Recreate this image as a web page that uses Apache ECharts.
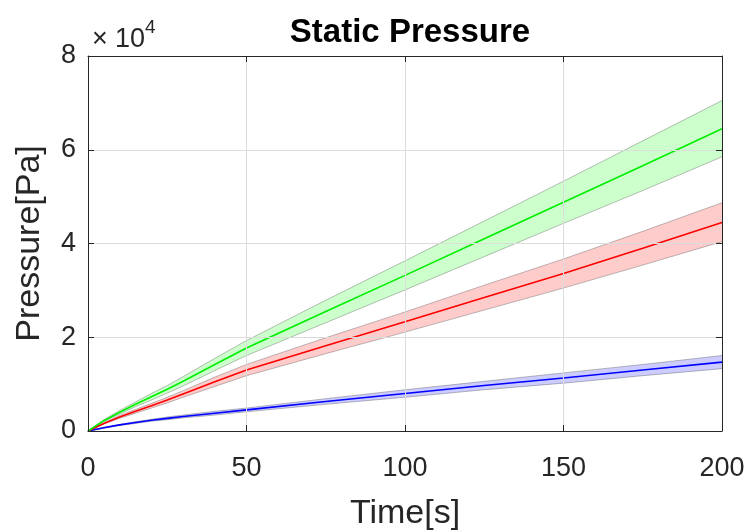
<!DOCTYPE html>
<html>
<head>
<meta charset="utf-8">
<title>Static Pressure</title>
<script src="https://cdn.jsdelivr.net/npm/echarts@6/dist/echarts.min.js"></script>
<style>
  html, body { margin: 0; padding: 0; background: #ffffff; }
  #chart { width: 745px; height: 530px; }
</style>
</head>
<body>
<div id="chart"></div>
<script>
// Time samples [s]
var timeS = [0, 5, 10, 15, 20, 25, 30, 40, 50, 75, 100, 125, 150, 175, 200];

// Pressure in units of 1e4 Pa: mean curve plus lower/upper bounds of each band
var greenMid = [0, 0.22, 0.40, 0.57, 0.73, 0.89, 1.06, 1.42, 1.77, 2.55, 3.32, 4.10, 4.88, 5.66, 6.45];
var greenLow = [0, 0.20, 0.36, 0.52, 0.66, 0.81, 0.96, 1.29, 1.61, 2.31, 3.01, 3.72, 4.43, 5.13, 5.85];
var greenUp  = [0, 0.24, 0.44, 0.62, 0.80, 0.97, 1.16, 1.55, 1.93, 2.79, 3.63, 4.48, 5.33, 6.19, 7.05];

var redMid = [0, 0.16, 0.30, 0.42, 0.54, 0.66, 0.79, 1.05, 1.30, 1.82, 2.33, 2.85, 3.36, 3.90, 4.45];
var redLow = [0, 0.15, 0.27, 0.38, 0.49, 0.60, 0.72, 0.95, 1.18, 1.65, 2.11, 2.58, 3.05, 3.54, 4.04];
var redUp  = [0, 0.17, 0.33, 0.46, 0.59, 0.72, 0.86, 1.15, 1.42, 1.99, 2.54, 3.11, 3.67, 4.26, 4.87];

var blueMid = [0, 0.07, 0.13, 0.18, 0.23, 0.27, 0.31, 0.38, 0.45, 0.63, 0.80, 0.97, 1.13, 1.30, 1.47];
var blueLow = [0, 0.06, 0.12, 0.16, 0.21, 0.24, 0.28, 0.34, 0.41, 0.57, 0.72, 0.88, 1.02, 1.18, 1.33];
var blueUp  = [0, 0.08, 0.14, 0.20, 0.25, 0.30, 0.34, 0.42, 0.49, 0.69, 0.88, 1.06, 1.24, 1.42, 1.61];

var xTicks = [0, 50, 100, 150, 200];
var yTicks = [0, 2, 4, 6, 8];

var FONT = '"Liberation Sans", Arial, Helvetica, sans-serif';
var AXIS_COLOR = '#262626';
var EDGE_COLOR = 'rgba(50,50,50,0.4)';

function pairs(ys) {
  return timeS.map(function (t, i) { return [t, ys[i]]; });
}

// Filled polygon between the lower and upper bounds, placed through the grid's scales
function bandFill(key, low, up, fill) {
  var rows = timeS.map(function (t, i) { return [t, low[i], up[i]]; });
  return {
    name: key + '-fill', type: 'custom', silent: true, z: 1,
    data: rows,
    encode: { x: 0, y: [1, 2] },
    renderItem: function (params, api) {
      if (params.dataIndex !== 0) return null;
      var pts = [];
      for (var i = 0; i < rows.length; i++) pts.push(api.coord([rows[i][0], rows[i][2]]));
      for (var j = rows.length - 1; j >= 0; j--) pts.push(api.coord([rows[j][0], rows[j][1]]));
      return {
        type: 'polygon',
        shape: { points: pts },
        style: { fill: fill, stroke: null }
      };
    }
  };
}

function edgeLine(key, ys) {
  return {
    name: key, type: 'line', data: pairs(ys),
    showSymbol: false, silent: true, z: 2,
    lineStyle: { color: EDGE_COLOR, width: 0.8 }
  };
}

// One shaded band with its edges and centre line
function bandSeries(key, low, up, mid, fill, lineColor) {
  return [
    bandFill(key, low, up, fill),
    edgeLine(key + '-low', low),
    edgeLine(key + '-up', up),
    {
      name: key + '-mid', type: 'line', data: pairs(mid),
      showSymbol: false, silent: true, z: 3,
      lineStyle: { color: lineColor, width: 1.6 }
    }
  ];
}

var chart = echarts.init(document.getElementById('chart'), null, { renderer: 'canvas' });

var tickStyle = { show: true, inside: true, length: 6, lineStyle: { color: AXIS_COLOR, width: 1 } };
var lineAxis = { show: true, onZero: false, lineStyle: { color: AXIS_COLOR, width: 1 } };

var option = {
  backgroundColor: '#ffffff',
  animation: false,
  title: {
    text: 'Static Pressure',
    left: 405, top: 11, textAlign: 'center',
    textStyle: { fontFamily: FONT, fontSize: 33, fontWeight: 'bold', color: '#000000' }
  },
  grid: { left: 88, right: 23, top: 56, bottom: 99, containLabel: false, outerBoundsMode: 'none' },
  xAxis: [
    {
      type: 'value', min: xTicks[0], max: xTicks[xTicks.length - 1], interval: 50,
      position: 'bottom', z: 10,
      name: 'Time[s]', nameLocation: 'middle', nameGap: 66,
      nameTextStyle: { fontFamily: FONT, fontSize: 34, color: AXIS_COLOR },
      axisLine: lineAxis, axisTick: tickStyle,
      axisLabel: { fontFamily: FONT, fontSize: 27, color: AXIS_COLOR, margin: 24 },
      splitLine: { show: true, lineStyle: { color: '#dcdcdc', width: 1 } }
    },
    {
      type: 'value', min: xTicks[0], max: xTicks[xTicks.length - 1], interval: 50,
      position: 'top', z: 10,
      axisLine: lineAxis, axisTick: tickStyle,
      axisLabel: { show: false }, splitLine: { show: false }
    }
  ],
  yAxis: [
    {
      type: 'value', min: yTicks[0], max: yTicks[yTicks.length - 1], interval: 2,
      position: 'left', z: 10,
      name: 'Pressure[Pa]', nameLocation: 'middle', nameGap: 41,
      nameTextStyle: { fontFamily: FONT, fontSize: 34, color: AXIS_COLOR },
      axisLine: lineAxis, axisTick: tickStyle,
      axisLabel: { fontFamily: FONT, fontSize: 27, color: AXIS_COLOR, margin: 12 },
      splitLine: { show: true, lineStyle: { color: '#dcdcdc', width: 1 } }
    },
    {
      type: 'value', min: yTicks[0], max: yTicks[yTicks.length - 1], interval: 2,
      position: 'right', z: 10,
      axisLine: lineAxis, axisTick: tickStyle,
      axisLabel: { show: false }, splitLine: { show: false }
    }
  ],
  graphic: [
    {
      type: 'text', left: 92, top: 26,
      style: { text: '\u00d7', font: '27px ' + FONT, fill: AXIS_COLOR }
    },
    {
      type: 'text', left: 115, top: 26,
      style: { text: '10', font: '27px ' + FONT, fill: AXIS_COLOR }
    },
    {
      type: 'text', left: 145, top: 18,
      style: { text: '4', font: '19px ' + FONT, fill: AXIS_COLOR }
    }
  ],
  series: []
    .concat(bandSeries('blue', blueLow, blueUp, blueMid, 'rgba(0,0,255,0.2)', '#0000ff'))
    .concat(bandSeries('red', redLow, redUp, redMid, 'rgba(255,0,0,0.2)', '#ff0000'))
    .concat(bandSeries('green', greenLow, greenUp, greenMid, 'rgba(0,255,0,0.2)', '#00ee00'))
};

chart.setOption(option);
</script>
</body>
</html>
